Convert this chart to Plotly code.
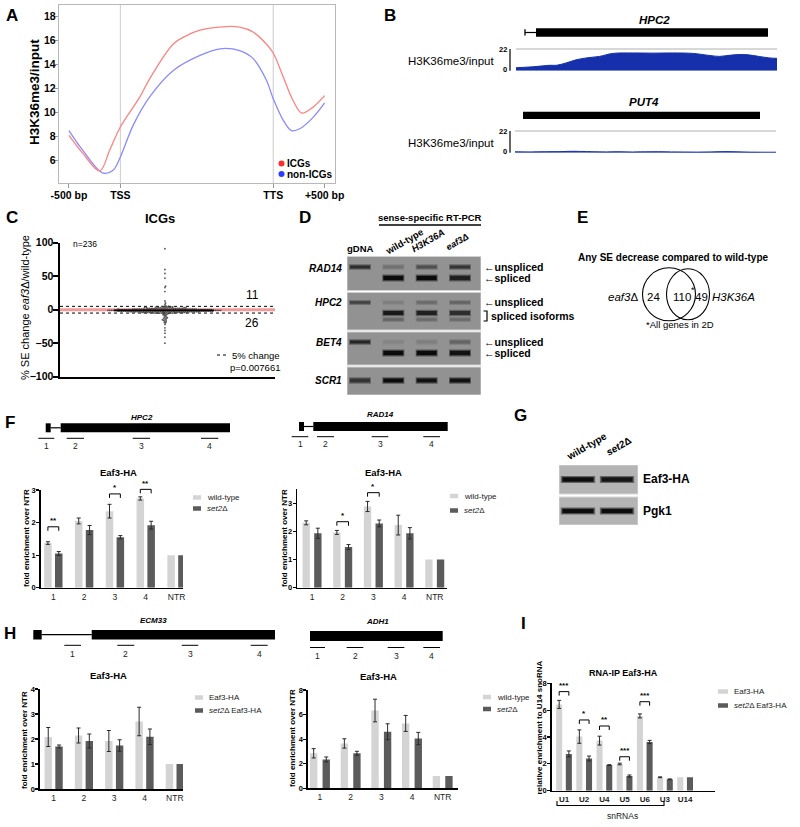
import statistics
import plotly.graph_objects as go

W, H = 800, 827
FONT = "Liberation Sans, Arial, sans-serif"
LIGHT = "#d4d4d4"
DARK = "#5b5b5b"

# ======================= DATA =======================
# A  metagene H3K36me3/input profile (x: scaled bp, TSS = 0)
a_tick_pos = [-500, 0, 1487, 1987]
a_tick_text = ["-500 bp", "TSS", "TTS", "+500 bp"]
a_y_ticks = [6, 8, 10, 12, 14, 16, 18]
a_icg_x = [-500, -365, -200, -105, 0, 190, 285, 515, 645, 775, 1030, 1160, 1290, 1420, 1487, 1585, 1680, 1765, 1875, 1987]
a_icg_y = [8.1, 6.6, 5.15, 6.85, 8.8, 11.3, 12.8, 15.7, 16.4, 16.85, 17.15, 17.1, 16.7, 15.7, 14.95, 12.95, 11.0, 9.95, 10.45, 11.4]
a_non_x = [-500, -365, -170, -70, 0, 125, 285, 515, 775, 970, 1160, 1290, 1420, 1487, 1585, 1665, 1745, 1875, 1987]
a_non_y = [8.5, 6.85, 4.97, 5.2, 6.3, 8.95, 11.3, 13.5, 14.75, 15.3, 15.15, 14.5, 12.7, 11.15, 9.35, 8.5, 8.65, 9.6, 10.8]

# B  genome browser coverage (position in % of window, H3K36me3/input)
b_hpc2_pos = [0, 6.6, 13, 15.6, 19.4, 23, 27, 32, 37, 45, 52.5, 60, 68, 74, 78, 83, 88, 93, 97, 100]
b_hpc2_cov = [3, 4, 5.5, 5.5, 8, 11, 13, 14.5, 17.5, 18, 17.8, 18, 17.5, 15.5, 14.5, 16, 16.3, 14.5, 13, 12.5]
b_put4_pos = [0, 6, 12, 18, 21, 25, 30, 35, 40, 45, 50, 55, 60, 65, 70, 75, 80, 85, 90, 95, 100]
b_put4_cov = [0.9, 0.8, 1.0, 1.1, 1.4, 1.3, 1.0, 0.8, 1.0, 0.7, 0.9, 1.0, 0.8, 0.7, 0.6, 0.8, 1.1, 0.9, 0.6, 0.5, 0.5]

# C  % SE change eaf3Δ / wild-type for 236 ICGs
c_above = [91, 60, 54, 47, 35, 33, 27, 13, 10, 8, 6]
c_below = [-5.5, -6, -6.5, -7, -7.5, -8, -9, -10, -11, -12, -12.5, -13, -14, -15, -15.5, -16,
           -17, -18, -19, -20, -22, -27, -31, -35, -41, -50]
c_mid_values = [-5, -4, -3, -2, -1, 0, 1, 2, 3, 4, 5]
c_mid_counts = [10, 16, 24, 30, 34, 30, 22, 15, 9, 6, 3]

# D  RT-PCR gel band intensities (0..1) per lane
d_lanes = ["gDNA", "wild-type", "H3K36A", "eaf3Δ"]
d_genes = ["RAD14", "HPC2", "BET4", "SCR1"]
d_rad14_unspliced = [0.75, 0.25, 0.5, 0.7]
d_rad14_spliced = [0.0, 1.0, 1.0, 0.85]
d_hpc2_unspliced = [0.6, 0.15, 0.3, 0.35]
d_hpc2_iso1 = [0.0, 0.9, 0.85, 0.75]
d_hpc2_iso2 = [0.0, 0.35, 0.3, 0.3]
d_bet4_unspliced = [0.8, 0.1, 0.15, 0.35]
d_bet4_spliced = [0.0, 1.0, 1.0, 0.95]
d_scr1 = [0.7, 1.0, 0.95, 0.95]

# E  Venn counts
e_eaf3_only, e_both, e_h3k36a_only = 24, 110, 49

# F  Eaf3-HA ChIP (HPC2, RAD14)
f_cats = ["1", "2", "3", "4", "NTR"]
f_hpc2_wt = [1.37, 2.05, 2.35, 2.74, 1.0]
f_hpc2_wt_err = [0.04, 0.09, 0.21, 0.05]
f_hpc2_set2 = [1.05, 1.77, 1.55, 1.92, 1.0]
f_hpc2_set2_err = [0.06, 0.14, 0.05, 0.12]
f_hpc2_sig = ([0, 2, 3], [1.87, 2.88, 3.02], ["**", "*", "**"])
f_rad14_wt = [2.3, 1.96, 2.88, 2.22, 1.0]
f_rad14_wt_err = [0.07, 0.07, 0.18, 0.35]
f_rad14_set2 = [1.93, 1.44, 2.28, 1.93, 1.0]
f_rad14_set2_err = [0.18, 0.09, 0.12, 0.2]
f_rad14_sig = ([1, 2], [2.34, 3.37], ["*", "*"])

# G  western
g_lanes = ["wild-type", "set2Δ"]
g_eaf3 = [0.95, 0.9]
g_pgk1 = [0.95, 0.95]

# H  Eaf3-HA ChIP (ECM33, ADH1)
h_ecm33_wt = [2.08, 2.14, 1.92, 2.7, 1.0]
h_ecm33_wt_err = [0.38, 0.3, 0.42, 0.57]
h_ecm33_set2 = [1.7, 1.92, 1.74, 2.09, 1.0]
h_ecm33_set2_err = [0.06, 0.28, 0.23, 0.31]
h_adh1_wt = [2.85, 3.65, 6.33, 5.28, 1.0]
h_adh1_wt_err = [0.38, 0.38, 0.92, 0.65]
h_adh1_set2 = [2.35, 2.85, 4.6, 4.05, 1.0]
h_adh1_set2_err = [0.2, 0.16, 0.65, 0.5]

# I  RNA-IP
i_cats = ["U1", "U2", "U4", "U5", "U6", "U3", "U14"]
i_wt = [6.43, 4.03, 3.73, 1.99, 5.57, 1.0, 1.0]
i_wt_err = [0.3, 0.5, 0.33, 0.06, 0.15, 0.03]
i_set2 = [2.74, 2.4, 1.91, 1.09, 3.63, 0.85, 1.0]
i_set2_err = [0.22, 0.18, 0.03, 0.08, 0.12, 0.03]
i_sig = ([0, 1, 2, 3, 4], [7.38, 5.27, 4.82, 2.53, 6.63], ["***", "*", "**", "***", "***"])

# ======================= HELPERS =======================
fig = go.Figure()
layout = dict(template="none", width=W, height=H, margin=dict(l=0, r=0, t=0, b=0, pad=0),
              paper_bgcolor="white", plot_bgcolor="rgba(0,0,0,0)",
              showlegend=False, font=dict(family=FONT, color="black", size=10))
ann, shp = [], []
n_axes = [0]


def X(x):
    return x / W


def Y(y):
    return 1 - y / H


def new_axes(box, xr, yr, xo=None, yo=None):
    n_axes[0] += 1
    n = n_axes[0]
    s = "" if n == 1 else str(n)
    xa = dict(domain=[X(box[0]), X(box[1])], range=xr, anchor="y" + s, showgrid=False,
              zeroline=False, showticklabels=False, ticks="", showline=False, automargin=False)
    ya = dict(domain=[Y(box[3]), Y(box[2])], range=yr, anchor="x" + s, showgrid=False,
              zeroline=False, showticklabels=False, ticks="", showline=False, automargin=False)
    if xo:
        xa.update(xo)
    if yo:
        ya.update(yo)
    layout["xaxis" + s] = xa
    layout["yaxis" + s] = ya
    return "x" + s, "y" + s


def mapper(box, xr, yr):
    def fx(v):
        return box[0] + (v - xr[0]) / (xr[1] - xr[0]) * (box[1] - box[0])

    def fy(v):
        return box[3] - (v - yr[0]) / (yr[1] - yr[0]) * (box[3] - box[2])
    return fx, fy


def text(x, y, s, size=10, b=False, i=False, xa="center", ya="middle", ang=0, color="black"):
    if i:
        s = "<i>" + s + "</i>"
    if b:
        s = "<b>" + s + "</b>"
    ann.append(dict(x=X(x), y=Y(y), xref="paper", yref="paper", text=s, showarrow=False,
                    xanchor=xa, yanchor=ya, textangle=ang, borderpad=0,
                    font=dict(size=size, color=color, family=FONT)))


def rect(x0, y0, x1, y1, fill="black"):
    shp.append(dict(type="rect", xref="paper", yref="paper", x0=X(x0), x1=X(x1),
                    y0=Y(y1), y1=Y(y0), fillcolor=fill, line=dict(width=0)))


def seg(x0, y0, x1, y1, color="black", w=1, dash=None):
    shp.append(dict(type="line", xref="paper", yref="paper", x0=X(x0), x1=X(x1),
                    y0=Y(y0), y1=Y(y1), line=dict(color=color, width=w, dash=dash)))


def path(pts, color="black", w=1):
    d = "M " + " L ".join(f"{X(a):.5f},{Y(b):.5f}" for a, b in pts)
    shp.append(dict(type="path", xref="paper", yref="paper", path=d,
                    line=dict(color=color, width=w)))


def circle(cx, cy, rx, ry=None, color="black", w=1, fill="rgba(0,0,0,0)"):
    ry = rx if ry is None else ry
    shp.append(dict(type="circle", xref="paper", yref="paper", x0=X(cx - rx), x1=X(cx + rx),
                    y0=Y(cy + ry), y1=Y(cy - ry), line=dict(color=color, width=w), fillcolor=fill))


def bar_panel(box, xr, yr, ytv, cats, v1, e1, v2, e2, names, c, bw, sig=None,
              xfs=8.5, yfs=7.5, xbold=False):
    xa, ya = new_axes(box, xr, yr,
                      xo=dict(showline=True, linecolor="black", linewidth=1.6,
                              tickvals=list(range(len(cats))), ticktext=cats, showticklabels=True,
                              tickfont=dict(size=xfs, family=FONT, color="#222",
                                            weight="bold" if xbold else "normal")),
                      yo=dict(showline=True, linecolor="black", linewidth=1.6, tickvals=ytv,
                              showticklabels=True, ticks="outside", ticklen=3, tickwidth=1.2,
                              tickcolor="black", ticklabelstandoff=-1,
                              tickfont=dict(size=yfs, family=FONT, weight="bold")))
    idx = list(range(len(cats)))
    for vals, errs, col, off, nm in ((v1, e1, LIGHT, -c - bw / 2, names[0]),
                                     (v2, e2, DARK, c - bw / 2, names[1])):
        fig.add_trace(go.Bar(x=idx, y=vals, width=bw, offset=off, name=nm,
                             marker=dict(color=col, line=dict(width=0)),
                             error_y=dict(type="data", array=errs, visible=True, color="#2a2a2a",
                                          thickness=1, width=2),
                             xaxis=xa, yaxis=ya, hoverinfo="skip"))
    fx, fy = mapper(box, xr, yr)
    if sig:
        for i, h, lab in zip(*sig):
            xl, xrr = fx(i - c), fx(i + c)
            yt = fy(h)
            path([(xl, yt + 4), (xl, yt), (xrr, yt), (xrr, yt + 4)], w=1)
            text((xl + xrr) / 2, yt - 0.5, lab, 8, b=True, ya="bottom")
    return xa, ya


def legend(x, ys, labels, sw=8, sh=4.5, fs=8):
    for y, lab, col in zip(ys, labels, [LIGHT, DARK]):
        rect(x, y - sh / 2, x + sw, y + sh / 2, fill=col)
        text(x + sw + 5, y, lab, fs, xa="left", color="#222")


# panel letters
for lab, lx, ly in [("A", 12, 16), ("B", 390, 16), ("C", 12, 218), ("D", 305, 217), ("E", 582, 217),
                    ("F", 10, 423), ("G", 520, 415), ("H", 10, 633), ("I", 523, 623)]:
    text(lx, ly, lab, 17, b=True)

# ======================= PANEL A =======================
boxA = (59, 335, 5, 183)
xrA, yrA = [-597, 2088], [4.14, 18.94]
tfA = dict(size=10.5, family=FONT, weight="bold")
xA, yA = new_axes(boxA, xrA, yrA,
                  xo=dict(showline=True, mirror=True, linecolor="#b8b8b8", linewidth=1.2,
                          tickvals=a_tick_pos, ticktext=a_tick_text, showticklabels=True,
                          ticks="outside", ticklen=4, tickcolor="#999", tickfont=tfA,
                          ticklabelstandoff=-2),
                  yo=dict(showline=True, mirror=True, linecolor="#b8b8b8", linewidth=1.2,
                          tickvals=a_y_ticks, showticklabels=True, ticks="outside", ticklen=4,
                          tickcolor="#999", tickfont=tfA, ticklabelstandoff=-4))
for xv in a_tick_pos[1:3]:
    shp.append(dict(type="line", xref=xA, yref=yA, x0=xv, x1=xv, y0=yrA[0], y1=yrA[1],
                    line=dict(color="#cccccc", width=1), layer="below"))
fig.add_trace(go.Scatter(x=a_non_x, y=a_non_y, mode="lines", name="non-ICGs",
                         line=dict(color="#8a8aff", width=1.3, shape="spline", smoothing=1.0),
                         xaxis=xA, yaxis=yA))
fig.add_trace(go.Scatter(x=a_icg_x, y=a_icg_y, mode="lines", name="ICGs",
                         line=dict(color="#ff8282", width=1.3, shape="spline", smoothing=1.0),
                         xaxis=xA, yaxis=yA))
circle(281.5, 163.5, 3, color="#ff2a2a", w=0, fill="#ff2a2a")
circle(281.5, 174, 3, color="#2a3cff", w=0, fill="#2a3cff")
text(286, 163.5, "ICGs", 10, b=True, xa="left")
text(286, 174, "non-ICGs", 10, b=True, xa="left")
text(35, 92, "H3K36me3/input", 13.5, b=True, ang=-90)

# ======================= PANEL B =======================
BLUE = "#1530aa"
for (bx, pos, cov, name, gene_rect, lab_y, tr_y) in [
        ((516, 777), b_hpc2_pos, b_hpc2_cov, "HPC2", (536, 28.3, 768, 36.7), 19.5, (49, 70.7)),
        ((515, 776), b_put4_pos, b_put4_cov, "PUT4", (523, 111.7, 760, 119), 102.5, (131, 152.7))]:
    box = (bx[0], bx[1], tr_y[0], tr_y[1])
    xb, yb = new_axes(box, [0, 100], [0, 22])
    seg(bx[0], tr_y[0], bx[1], tr_y[0], color="#b0b0b0", w=1)
    fig.add_trace(go.Scatter(x=pos, y=cov, mode="lines", fill="tozeroy", fillcolor=BLUE,
                             line=dict(color=BLUE, width=1, shape="spline"), xaxis=xb, yaxis=yb,
                             name=name))
    seg(510, tr_y[0], 510, tr_y[1], w=1.2)
    text(508, tr_y[0] + 0.5, "22", 7.5, b=True, xa="right")
    text(508, tr_y[1] - 1.5, "0", 7.5, b=True, xa="right")
    text(495, (tr_y[0] + tr_y[1]) / 2 + 1, "H3K36me3/input", 11.5, xa="right")
    rect(*gene_rect)
    text((gene_rect[0] + gene_rect[2]) / 2 + 2, lab_y, name, 11.5, b=True, i=True)
seg(525, 29.3, 525, 35.5, w=1.3)
seg(525, 32.5, 536, 32.5, w=1.2)

# ======================= PANEL C =======================
boxC = (60, 275, 242.7, 376.7)
xrC, yrC = [0, 1], [-100, 100]
xC, yC = new_axes(boxC, xrC, yrC,
                  xo=dict(showline=True, linecolor="black", linewidth=2.5),
                  yo=dict(showline=True, linecolor="black", linewidth=2.5,
                          tickvals=[-100, -50, 0, 50, 100], showticklabels=True, ticks="outside",
                          ticklen=5, tickwidth=2, tickcolor="black", ticklabelstandoff=-3,
                          tickfont=dict(size=10.5, family=FONT, weight="bold")))
c_values = list(c_above) + list(c_below)
for v, n in zip(c_mid_values, c_mid_counts):
    c_values += [v] * n
ppu = (boxC[3] - boxC[2]) / (yrC[1] - yrC[0])
pxu = boxC[1] - boxC[0]
dmin, step = 1.35, 0.6
placed = []
offs = [0.0] * len(c_values)
for k in sorted(range(len(c_values)), key=lambda q: c_values[q]):
    yv = c_values[k] * ppu
    near = [(a, b) for a, b in placed if abs(b - yv) < dmin]
    m = 0
    while True:
        off = 0.0 if m == 0 else ((m + 1) // 2) * step * (1 if m % 2 else -1)
        if all((off - a) ** 2 + (yv - b) ** 2 >= dmin * dmin for a, b in near):
            break
        m += 1
    placed.append((off, yv))
    offs[k] = off
c_center = 0.488
shp.append(dict(type="line", xref=xC, yref=yC, x0=0, x1=1, y0=0, y1=0,
                line=dict(color="#f39a9a", width=3), layer="below"))
for yy in (5, -5):
    shp.append(dict(type="line", xref=xC, yref=yC, x0=0, x1=1, y0=yy, y1=yy,
                    line=dict(color="black", width=1, dash="dot"), layer="below"))
fig.add_trace(go.Scatter(x=[c_center + o / pxu for o in offs], y=c_values, mode="markers",
                         marker=dict(size=1.8, color="#3a3a3a", opacity=0.85),
                         xaxis=xC, yaxis=yC, name="ICGs"))
c_med = statistics.median(c_values)
shp.append(dict(type="line", xref=xC, yref=yC, x0=0.251, x1=0.716, y0=c_med, y1=c_med,
                line=dict(color="black", width=1.8)))
text(160, 219, "ICGs", 13, b=True)
text(72, 244.5, "n=236", 8.5, xa="left")
text(252, 295, str(len(c_above)), 12)
text(252, 322.5, str(len(c_below)), 12)
seg(217, 355, 229, 355, w=1, dash="dot")
text(231, 355, "5% change", 9.5, xa="left")
text(281, 367.5, "p=0.007661", 9.5, xa="right")
text(25, 308, "% SE change <i>eaf3</i>Δ/wild-type", 11, ang=-90)

# ======================= PANEL D (gel) =======================
boxD = (347, 481, 256, 395)
xrD, yrD = [-0.39, 3.63], [395, 256]
xD, yD = new_axes(boxD, xrD, yrD)
gel_rows = [(256.5, 290.5), (292.5, 330), (332, 365), (367, 395)]
for t, bt in gel_rows:
    shp.append(dict(type="rect", xref=xD, yref=yD, x0=xrD[0], x1=xrD[1], y0=t, y1=bt,
                    fillcolor="#929292", line=dict(color="#d0d0d0", width=1), layer="below"))
band_sets = [d_rad14_unspliced, d_rad14_spliced, d_hpc2_unspliced, d_hpc2_iso1, d_hpc2_iso2,
             d_bet4_unspliced, d_bet4_spliced, d_scr1]
band_rows = [267, 278, 302.5, 313, 319.5, 342, 353, 380.5]
band_thick = [3, 4.5, 2.5, 4, 2.5, 3, 4.5, 4]


def band_col(a):
    g = int(round(146 - 135 * a))
    return f"rgb({g},{g},{g})"


for vals, ry, th in zip(band_sets, band_rows, band_thick):
    for li, a in enumerate(vals):
        if a <= 0:
            continue
        fig.add_trace(go.Scatter(x=[li - 0.33, li + 0.33], y=[ry, ry], mode="lines",
                                 line=dict(color=band_col(a * 0.45), width=th + 2.5),
                                 xaxis=xD, yaxis=yD, hoverinfo="skip"))
        fig.add_trace(go.Scatter(x=[li - 0.3, li + 0.3], y=[ry, ry], mode="lines",
                                 line=dict(color=band_col(a), width=th),
                                 xaxis=xD, yaxis=yD, hoverinfo="skip"))
text(430, 217, "sense-specific RT-PCR", 9.5, b=True)
seg(379, 225, 481, 225, w=1.5)
text(360, 248.5, "gDNA", 9.5, b=True)
text(404, 241.5, "wild-type", 9.5, b=True, ang=-30)
text(428, 241, "H3K36A", 9.5, b=True, i=True, ang=-30)
text(457, 241.5, "eaf3Δ", 9, b=True, i=True, ang=-30)
for g, ry in zip(d_genes, [268, 302.5, 342, 380.5]):
    text(343, ry, g, 10, b=True, i=True, xa="right")
for lab, ry in [("\u2190unspliced", 267), ("\u2190spliced", 278), ("\u2190unspliced", 302),
                ("\u2190unspliced", 342), ("\u2190spliced", 353)]:
    text(483, ry, lab, 10.5, b=True, xa="left")
path([(483.5, 311), (487, 311), (487, 321), (483.5, 321)], w=1.2)
text(490, 316, "spliced isoforms", 10.5, b=True, xa="left")

# ======================= PANEL E (Venn) =======================
text(673, 258, "Any SE decrease compared to wild-type", 10, b=True)
circle(669, 294.3, 26.5, w=1.1)
circle(688, 294.3, 21.5, 25.5, w=1.1)
text(639, 297, "<i>eaf3</i>Δ", 11.5, xa="right")
text(653.5, 297, str(e_eaf3_only), 11.5)
text(682, 297, str(e_both), 11.5)
text(692.5, 289.5, "*", 9)
text(701.5, 297, str(e_h3k36a_only), 11.5)
text(711, 297, "H3K36A", 11.5, i=True, xa="left")
text(680, 324.5, "*All genes in 2D", 9.5)

# ======================= PANEL F =======================
rect(45.7, 423.3, 50.7, 432.3)
seg(50.7, 427.8, 60.7, 427.8, w=1.2)
rect(60.7, 423.3, 230, 432.3)
text(142, 417.5, "HPC2", 8, b=True, i=True)
for x0, x1, lab in [(38.3, 54.3, "1"), (66.7, 84, "2"), (132.7, 150, "3"), (201, 218.3, "4")]:
    seg(x0, 438.3, x1, 438.3, w=1)
    text((x0 + x1) / 2, 445.5, lab, 8.5, color="#222")
rect(299, 422, 304, 431)
seg(304, 426.5, 313.3, 426.5, w=1.2)
rect(313.3, 422, 447.7, 431)
text(380, 414, "RAD14", 8, b=True, i=True)
for x0, x1, lab in [(291.7, 308.3, "1"), (317, 334, "2"), (371.7, 388.3, "3"), (423.3, 440, "4")]:
    seg(x0, 436.7, x1, 436.7, w=1)
    text((x0 + x1) / 2, 444, lab, 8.5, color="#222")

boxF1 = (40.7, 183, 490, 587.7)
bar_panel(boxF1, [-0.41, 4.21], [0, 3], [0, 1, 2, 3], f_cats, f_hpc2_wt, f_hpc2_wt_err,
          f_hpc2_set2, f_hpc2_set2_err, ["wild-type", "set2Δ"], 0.176, 0.244, f_hpc2_sig)
text(118, 472, "Eaf3-HA", 9.5, b=True)
text(26, 538, "fold enrichment over NTR", 8, b=True, ang=-90)
legend(193, [497.5, 508.5], ["wild-type", "<i>set2</i>Δ"])

boxF2 = (297.3, 447, 489, 587.7)
bar_panel(boxF2, [-0.48, 4.4], [0, 3.5], [0, 1, 2, 3], f_cats, f_rad14_wt, f_rad14_wt_err,
          f_rad14_set2, f_rad14_set2_err, ["wild-type", "set2Δ"], 0.19, 0.24, f_rad14_sig)
text(383, 472, "Eaf3-HA", 9.5, b=True)
text(284, 538, "fold enrichment over NTR", 8, b=True, ang=-90)
legend(450, [496, 510.5], ["wild-type", "<i>set2</i>Δ"])

# ======================= PANEL G (western) =======================
boxG = (559, 638, 465, 525)
xrG, yrG = [-0.487, 1.538], [525, 465]
xG, yG = new_axes(boxG, xrG, yrG)
for t, bt in [(465, 494), (497, 525)]:
    shp.append(dict(type="rect", xref=xG, yref=yG, x0=xrG[0], x1=xrG[1], y0=t, y1=bt,
                    fillcolor="#b4b4b4", line=dict(color="#d6d6d6", width=1), layer="below"))
for vals, ry in [(g_eaf3, 479.5), (g_pgk1, 511)]:
    for li, a in enumerate(vals):
        g1 = int(round(170 - 150 * a * 0.5))
        fig.add_trace(go.Scatter(x=[li - 0.44, li + 0.44], y=[ry, ry], mode="lines",
                                 line=dict(color=f"rgb({g1},{g1},{g1})", width=7),
                                 xaxis=xG, yaxis=yG, hoverinfo="skip"))
        g2 = int(round(170 - 165 * a))
        fig.add_trace(go.Scatter(x=[li - 0.4, li + 0.4], y=[ry, ry], mode="lines",
                                 line=dict(color=f"rgb({g2},{g2},{g2})", width=4.5),
                                 xaxis=xG, yaxis=yG, hoverinfo="skip"))
text(586, 446, "wild-type", 10, b=True, ang=-30)
text(618, 446, "<i>set2</i>Δ", 10, b=True, ang=-30)
text(642, 479.5, "Eaf3-HA", 12, b=True, xa="left")
text(642, 511, "Pgk1", 12, b=True, xa="left")

# ======================= PANEL H =======================
rect(33.3, 630, 41.7, 639.5)
seg(41.7, 634.7, 91.7, 634.7, w=1.2)
rect(91.7, 630, 275, 639.5)
text(153, 620, "ECM33", 8, b=True, i=True)
for x0, x1, lab in [(64.3, 81, "1"), (117.3, 134.3, "2"), (181.7, 198.3, "3"), (250.7, 267.7, "4")]:
    seg(x0, 645.3, x1, 645.3, w=1)
    text((x0 + x1) / 2, 653.5, lab, 8.5, color="#222")
rect(310, 631, 442.7, 641)
text(377, 621, "ADH1", 8, b=True, i=True)
for x0, x1, lab in [(310, 325, "1"), (346.7, 363.3, "2"), (387.7, 404.3, "3"), (423.3, 440, "4")]:
    seg(x0, 647.5, x1, 647.5, w=1)
    text((x0 + x1) / 2, 655.5, lab, 8.5, color="#222")

boxH1 = (40, 183, 689, 789)
bar_panel(boxH1, [-0.45, 4.27], [0, 4], [0, 1, 2, 3, 4], f_cats, h_ecm33_wt, h_ecm33_wt_err,
          h_ecm33_set2, h_ecm33_set2_err, ["Eaf3-HA", "set2Δ Eaf3-HA"], 0.178, 0.245)
text(108, 675, "Eaf3-HA", 9.5, b=True)
text(24, 740, "fold enrichment over NTR", 8, b=True, ang=-90)
legend(195, [697.5, 710.5], ["Eaf3-HA", "<i>set2</i>Δ Eaf3-HA"])

boxH2 = (308, 458, 690, 788.3)
bar_panel(boxH2, [-0.39, 4.5], [0, 8], [0, 2, 4, 6, 8], f_cats, h_adh1_wt, h_adh1_wt_err,
          h_adh1_set2, h_adh1_set2_err, ["wild-type", "set2Δ"], 0.205, 0.24)
text(378, 676, "Eaf3-HA", 9.5, b=True)
text(292, 738, "fold enrichment over NTR", 8, b=True, ang=-90)
legend(483, [697, 709], ["wild-type", "<i>set2</i>Δ"])

# ======================= PANEL I =======================
boxI = (551.7, 715, 683.3, 790.7)
bar_panel(boxI, [-0.61, 7.48], [0, 8], [0, 2, 4, 6, 8], i_cats, i_wt, i_wt_err, i_set2,
          i_set2_err, ["Eaf3-HA", "set2Δ Eaf3-HA"], 0.24, 0.3, i_sig, xfs=8, xbold=True)
text(623, 673, "RNA-IP Eaf3-HA", 9, b=True)
text(538.5, 728, "relative enrichment to U14 snoRNA", 8, b=True, ang=-90)
legend(718, [691.5, 705.5], ["Eaf3-HA", "<i>set2</i>Δ Eaf3-HA"], sw=10)
path([(557, 801), (557, 805.5), (664, 805.5), (664, 801)], w=1.1)
text(622, 815.5, "snRNAs", 8.5, color="#222")

layout["annotations"] = ann
layout["shapes"] = shp
fig.update_layout(**layout)
fig.write_html("out.html", config={"displayModeBar": False, "staticPlot": True},
               post_script="document.body.style.margin='0px';document.body.style.padding='0px';")
